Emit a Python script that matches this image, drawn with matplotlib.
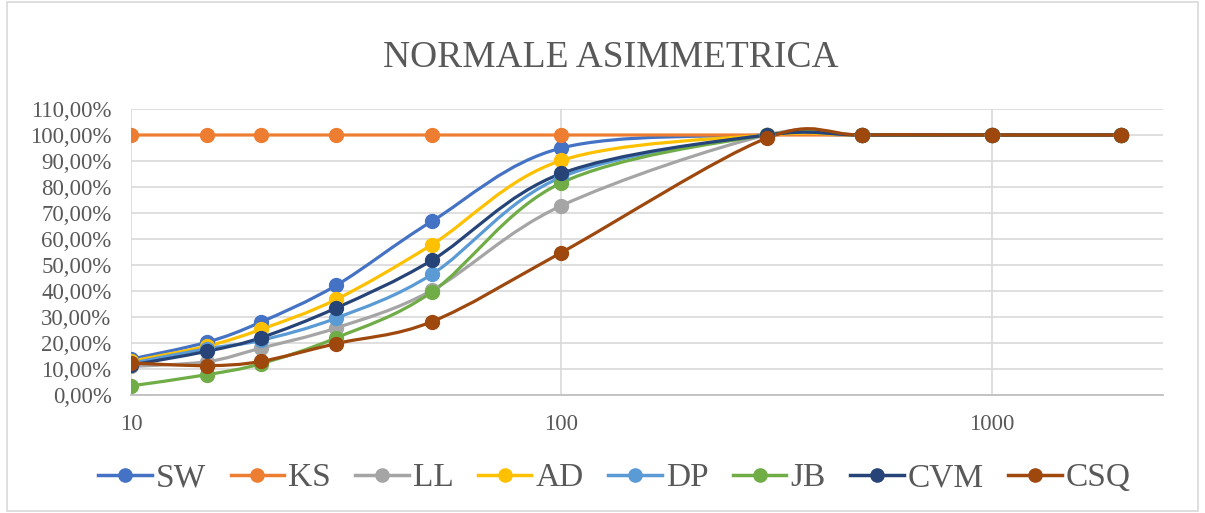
import numpy as np
import matplotlib.pyplot as plt
from matplotlib.path import Path
from matplotlib.patches import PathPatch, Rectangle
from matplotlib.lines import Line2D
from matplotlib.ticker import FuncFormatter, FixedLocator, NullLocator

plt.rcParams['font.family'] = ['Liberation Serif', 'DejaVu Serif']

n = [10, 15, 20, 30, 50, 100, 300, 500, 1000, 2000]

names = ["SW", "KS", "LL", "AD", "DP", "JB", "CVM", "CSQ"]
sw = [13.8, 20.3, 28.0, 42.2, 66.8, 95.0, 100, 100, 100, 100]
ks = [100, 100, 100, 100, 100, 100, 100, 100, 100, 100]
ll = [11.0, 12.8, 18.0, 25.8, 40.2, 72.8, 100, 100, 100, 100]
ad = [13.0, 18.8, 25.2, 36.8, 57.8, 90.2, 100, 100, 100, 100]
dp = [12.2, 17.8, 21.0, 29.6, 46.4, 83.8, 100, 100, 100, 100]
jb = [3.5, 7.8, 12.0, 22.0, 39.6, 81.6, 100, 100, 100, 100]
cvm = [11.5, 16.8, 22.0, 33.5, 51.8, 85.2, 100, 100, 100, 100]
csq = [12.3, 11.3, 12.9, 19.8, 28.2, 54.8, 98.8, 100, 100, 100]
series = [sw, ks, ll, ad, dp, jb, cvm, csq]

colors = ["#4472C4", "#ED7D31", "#A5A5A5", "#FFC000",
          "#5B9BD5", "#70AD47", "#264478", "#9E480E"]

TXT = "#595959"


def smooth_path(xs, ys):
    # cardinal spline as cubic beziers, built in log-x space
    lx = np.log10(np.asarray(xs, float))
    y = np.asarray(ys, float)
    pts = np.column_stack([lx, y])
    ext = np.vstack([pts[0], pts, pts[-1]])
    verts = [pts[0]]
    codes = [Path.MOVETO]
    for i in range(len(pts) - 1):
        p0, p1, p2, p3 = ext[i], ext[i + 1], ext[i + 2], ext[i + 3]
        c1 = p1 + (p2 - p0) / 6.0
        c2 = p2 - (p3 - p1) / 6.0
        verts += [c1, c2, p2]
        codes += [Path.CURVE4] * 3
    verts = np.array(verts)
    verts[:, 0] = 10 ** verts[:, 0]
    return Path(verts, codes)


fig = plt.figure(figsize=(12.05, 5.13), dpi=100)
ax = fig.add_axes([131 / 1205, 1 - 395 / 513, (1163 - 131) / 1205, (395 - 109) / 513])

ax.set_xscale('log')
ax.set_xlim(10, 2500)
ax.set_ylim(0, 110)

for vals, c in zip(series, colors):
    ax.add_patch(PathPatch(smooth_path(n, vals), fill=False, edgecolor=c,
                           lw=2.3, capstyle='round', joinstyle='round'))
    ax.plot(n, vals, ls='none', marker='o', ms=10, color=c)

ax.yaxis.set_major_locator(FixedLocator(np.arange(0, 111, 10)))
ax.yaxis.set_major_formatter(FuncFormatter(lambda v, p: f"{v:.2f}%".replace('.', ',')))
ax.xaxis.set_major_locator(FixedLocator([10, 100, 1000]))
ax.xaxis.set_minor_locator(NullLocator())
ax.xaxis.set_major_formatter(FuncFormatter(lambda v, p: f"{v:.0f}"))

ax.grid(True, color="#D9D9D9", lw=1.2)
ax.set_axisbelow(True)
ax.tick_params(length=0, labelsize=16.5, labelcolor=TXT)
ax.tick_params(axis='y', pad=14)
ax.tick_params(axis='x', pad=14)
for s in ['top', 'right', 'left']:
    ax.spines[s].set_visible(False)
ax.spines['bottom'].set_color("#BFBFBF")
ax.spines['bottom'].set_linewidth(1.3)

fig.text(611 / 1205, 1 - 67 / 513, "NORMALE ASIMMETRICA", ha='center',
         va='baseline', fontsize=27, color=TXT)

handles = [Line2D([], [], color=c, lw=2.5, marker='o', ms=9.5) for c in colors]
fig.legend(handles, names, loc='center', bbox_to_anchor=(0.510, 1 - 478 / 513),
           ncol=8, frameon=False, fontsize=24, labelcolor=TXT,
           handlelength=1.6, handletextpad=0.12, columnspacing=0.74)

fig.add_artist(Rectangle((7 / 1205, 2 / 513), 1191 / 1205, 509 / 513,
                         transform=fig.transFigure, fill=False,
                         edgecolor="#D9D9D9", lw=1.2))

fig.savefig("out.png", dpi=100)
